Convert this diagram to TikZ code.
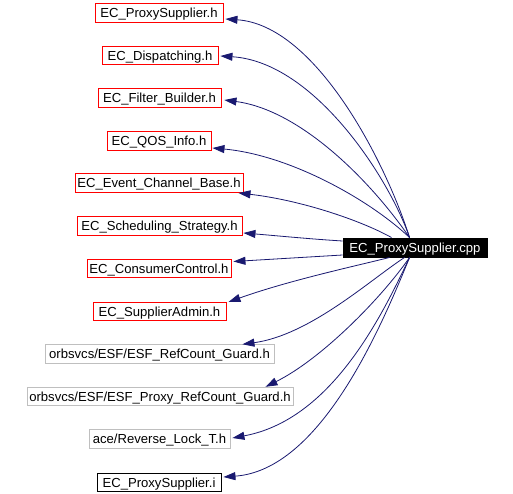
\documentclass[tikz,border=0pt]{standalone}
\usepackage{fontspec}
\setmainfont{Liberation Sans}
\usetikzlibrary{arrows.meta,calc}
\definecolor{edgeblue}{HTML}{191970}
\definecolor{boxred}{HTML}{FF0000}
\definecolor{boxgray}{HTML}{BFBFBF}
\begin{document}
\begin{tikzpicture}[x=1pt,y=-1pt,
  file/.style={draw, line width=0.9pt, minimum height=18.5pt, inner sep=0pt, text height=9.5pt, text depth=0pt, font=\fontsize{13.1}{15}\selectfont, anchor=center},
  redfile/.style={file, draw=boxred},
  grayfile/.style={file, draw=boxgray},
  blackfile/.style={file, draw=black},
  mainfile/.style={file, fill=black, draw=black, text=white},
  dep/.style={draw=edgeblue, line width=0.8pt, -{Triangle[length=12pt,width=8pt]}}
]
\useasboundingbox (0,0) rectangle (513,494);
\node[redfile, minimum width=128pt] (n1) at (159,13) {EC\_ProxySupplier.h};
\node[redfile, minimum width=116pt] (n2) at (160,55.5) {EC\_Dispatching.h};
\node[redfile, minimum width=123pt] (n3) at (159.5,98) {EC\_Filter\_Builder.h};
\node[redfile, minimum width=104pt] (n4) at (159,141) {EC\_QOS\_Info.h};
\node[redfile, minimum width=168pt] (n5) at (159,183) {EC\_Event\_Channel\_Base.h};
\node[redfile, minimum width=165pt] (n6) at (159.5,226) {EC\_Scheduling\_Strategy.h};
\node[redfile, minimum width=144pt] (n7) at (159,268.5) {EC\_ConsumerControl.h};
\node[redfile, minimum width=133pt] (n8) at (159.5,311.5) {EC\_SupplierAdmin.h};
\node[grayfile, minimum width=229pt] (n9) at (159.5,354) {orbsvcs/ESF/ESF\_RefCount\_Guard.h};
\node[grayfile, minimum width=266pt] (n10) at (160,396.5) {orbsvcs/ESF/ESF\_Proxy\_RefCount\_Guard.h};
\node[grayfile, minimum width=141pt] (n11) at (159.5,439) {ace/Reverse\_Lock\_T.h};
\node[blackfile, minimum width=124pt] (n12) at (159,482.5) {EC\_ProxySupplier.i};
\node[mainfile, minimum width=144pt, minimum height=19pt] (m) at (415,247.5) {EC\_ProxySupplier.cpp};

\draw[dep] ($(m.north west)+(67,0)$) .. controls (385,160) and (315,25) .. ($(n1.east)+(2,6)$);
\draw[dep] ($(m.north west)+(67,0)$) .. controls (390,180) and (315,62) .. ($(n2.east)+(2,0.5)$);
\draw[dep] ($(m.north west)+(67,0)$) .. controls (370,180) and (300,110) .. ($(n3.east)+(3,2)$);
\draw[dep] ($(m.north west)+(67,0)$) .. controls (370,200) and (290,155) .. ($(n4.east)+(1,7)$);
\draw[dep] ($(m.north west)+(49,0)$) .. controls (360,220) and (300,200) .. ($(n5.east)+(-5,10)$);
\draw[dep] ($(m.west)+(0,-6.5)$) .. controls (310,239) and (280,236) .. ($(n6.east)+(1,7)$);
\draw[dep] ($(m.west)+(0,7.5)$) -- ($(n7.east)+(2,-7)$);
\draw[dep] ($(m.south west)+(47,0)$) .. controls (360,265) and (290,280) .. ($(n8.east)+(2,-9.5)$);
\draw[dep] ($(m.south west)+(62,0)$) .. controls (370,280) and (310,335) .. ($(n9.north east)+(-32,0)$);
\draw[dep] ($(m.south west)+(67,0)$) .. controls (380,300) and (320,360) .. ($(n10.north east)+(-28,0)$);
\draw[dep] ($(m.south west)+(67,0)$) .. controls (380,320) and (330,420) .. ($(n11.east)+(2,-1)$);
\draw[dep] ($(m.south west)+(67,0)$) .. controls (380,330) and (320,470) .. ($(n12.east)+(2,-5.5)$);
\end{tikzpicture}
\end{document}
